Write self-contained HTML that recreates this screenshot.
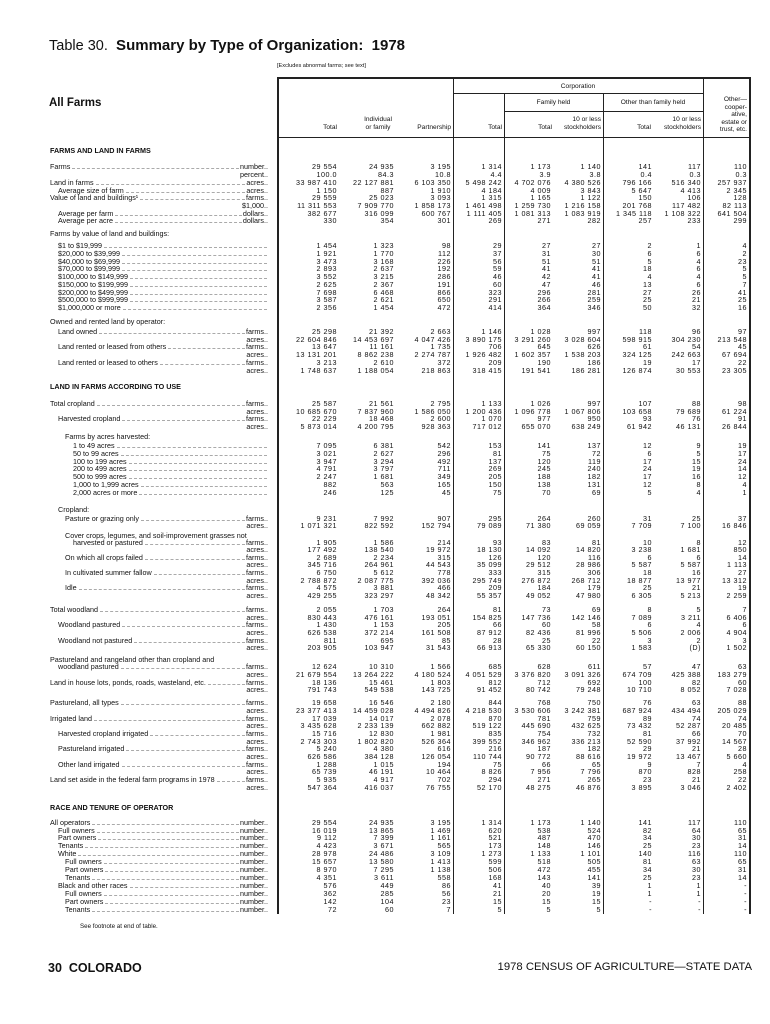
<!DOCTYPE html>
<html><head><meta charset="utf-8"><style>
*{margin:0;padding:0}
body{width:770px;height:1024px;background:#fff;position:relative;font-family:"Liberation Sans",sans-serif;color:#111;overflow:hidden}
.t{position:absolute;white-space:nowrap}
.r{position:absolute;left:0;width:770px;height:8px;font-size:7.2px;line-height:8px}
.r i{position:absolute;left:50px;width:218px;display:flex;font-style:normal;white-space:nowrap;box-sizing:border-box}
.r i q{flex:1;border-bottom:1px dashed #aaa;margin:0 1px 2px 2px}
.r i q:before,.r i q:after{content:""}
.r s{position:absolute;text-decoration:none;text-align:right;width:70px;top:0;letter-spacing:0.5px}
.r s:nth-of-type(1){right:433px}.r s:nth-of-type(2){right:376px}.r s:nth-of-type(3){right:319px}
.r s:nth-of-type(4){right:268px}.r s:nth-of-type(5){right:219px}.r s:nth-of-type(6){right:169px}
.r s:nth-of-type(7){right:118px}.r s:nth-of-type(8){right:69px}.r s:nth-of-type(9){right:23px}
.a1{padding-left:8px}.a2{padding-left:15px}.a3{padding-left:23px}
.h{position:absolute;left:50px;font-size:7.2px;font-weight:bold;white-space:nowrap}
.v{position:absolute;background:#222;width:1px}
.hl{position:absolute;background:#222;height:1px}
.ch{position:absolute;font-size:6.6px;line-height:7.5px;text-align:right;white-space:nowrap}
#m{position:absolute;left:0;top:2px;width:770px;height:800px}
</style></head><body>
<div class="t" style="left:49px;top:37px;font-size:14.5px">Table 30. <b style="font-size:15px">&nbsp;Summary by Type of Organization: &nbsp;1978</b></div>
<div class="t" style="left:277px;top:63px;font-size:5.6px">[Excludes abnormal farms; see text]</div>
<div class="t" style="left:49px;top:97px;font-size:11.5px;font-weight:bold">All Farms</div>

<div class="hl" style="left:277px;top:77px;width:473px;height:2px"></div>
<div class="hl" style="left:453px;top:93px;width:250px"></div>
<div class="hl" style="left:504px;top:111px;width:199px"></div>
<div class="hl" style="left:277px;top:137px;width:473px"></div>
<div class="v" style="left:277px;top:77px;height:837px;width:1.5px"></div>
<div class="v" style="left:453px;top:77px;height:837px"></div>
<div class="v" style="left:504px;top:93px;height:821px"></div>
<div class="v" style="left:603px;top:93px;height:821px"></div>
<div class="v" style="left:703px;top:77px;height:837px"></div>
<div class="v" style="left:749px;top:77px;height:837px;width:1.5px"></div>

<div class="ch" style="left:453px;width:250px;top:83px;text-align:center">Corporation</div>
<div class="ch" style="left:504px;width:99px;top:99px;text-align:center">Family held</div>
<div class="ch" style="left:603px;width:100px;top:99px;text-align:center">Other than family held</div>
<div class="ch" style="right:433px;top:124px">Total</div>
<div class="ch" style="left:353px;width:50px;top:116px;text-align:center">Individual<br>or family</div>
<div class="ch" style="right:319px;top:124px">Partnership</div>
<div class="ch" style="right:268px;top:124px">Total</div>
<div class="ch" style="right:218px;top:124px">Total</div>
<div class="ch" style="right:169px;top:116px">10 or less<br>stockholders</div>
<div class="ch" style="right:119px;top:124px">Total</div>
<div class="ch" style="right:69px;top:116px">10 or less<br>stockholders</div>
<div class="ch" style="right:23px;top:96px">Other—<br>cooper-<br>ative,<br>estate or<br>trust, etc.</div>

<div id="m">
<div class="h" style="top:144px">FARMS AND LAND IN FARMS</div>
<div class="r" style="top:161px"><i>Farms<q></q>number..</i><s>29 554</s><s>24 935</s><s>3 195</s><s>1 314</s><s>1 173</s><s>1 140</s><s>141</s><s>117</s><s>110</s></div>
<div class="r" style="top:169px"><i><q style="border:0"></q>percent..</i><s>100.0</s><s>84.3</s><s>10.8</s><s>4.4</s><s>3.9</s><s>3.8</s><s>0.4</s><s>0.3</s><s>0.3</s></div>
<div class="r" style="top:177px"><i>Land in farms<q></q>acres..</i><s>33 987 410</s><s>22 127 881</s><s>6 103 350</s><s>5 498 242</s><s>4 702 076</s><s>4 380 526</s><s>796 166</s><s>516 340</s><s>257 937</s></div>
<div class="r" style="top:185px"><i class="a1">Average size of farm<q></q>acres..</i><s>1 150</s><s>887</s><s>1 910</s><s>4 184</s><s>4 009</s><s>3 843</s><s>5 647</s><s>4 413</s><s>2 345</s></div>
<div class="r" style="top:192px"><i>Value of land and buildings¹<q></q>farms..</i><s>29 559</s><s>25 023</s><s>3 093</s><s>1 315</s><s>1 165</s><s>1 122</s><s>150</s><s>106</s><s>128</s></div>
<div class="r" style="top:200px"><i><q style="border:0"></q>$1,000..</i><s>11 311 553</s><s>7 909 770</s><s>1 858 173</s><s>1 461 498</s><s>1 259 730</s><s>1 216 158</s><s>201 768</s><s>117 482</s><s>82 113</s></div>
<div class="r" style="top:208px"><i class="a1">Average per farm<q></q>dollars..</i><s>382 677</s><s>316 099</s><s>600 767</s><s>1 111 405</s><s>1 081 313</s><s>1 083 919</s><s>1 345 118</s><s>1 108 322</s><s>641 504</s></div>
<div class="r" style="top:215px"><i class="a1">Average per acre<q></q>dollars..</i><s>330</s><s>354</s><s>301</s><s>269</s><s>271</s><s>282</s><s>257</s><s>233</s><s>299</s></div>

<div class="r" style="top:228px"><i>Farms by value of land and buildings:</i></div>
<div class="r" style="top:240px"><i class="a1">$1 to $19,999<q></q></i><s>1 454</s><s>1 323</s><s>98</s><s>29</s><s>27</s><s>27</s><s>2</s><s>1</s><s>4</s></div>
<div class="r" style="top:248px"><i class="a1">$20,000 to $39,999<q></q></i><s>1 921</s><s>1 770</s><s>112</s><s>37</s><s>31</s><s>30</s><s>6</s><s>6</s><s>2</s></div>
<div class="r" style="top:256px"><i class="a1">$40,000 to $69,999<q></q></i><s>3 473</s><s>3 168</s><s>226</s><s>56</s><s>51</s><s>51</s><s>5</s><s>4</s><s>23</s></div>
<div class="r" style="top:263px"><i class="a1">$70,000 to $99,999<q></q></i><s>2 893</s><s>2 637</s><s>192</s><s>59</s><s>41</s><s>41</s><s>18</s><s>6</s><s>5</s></div>
<div class="r" style="top:271px"><i class="a1">$100,000 to $149,999<q></q></i><s>3 552</s><s>3 215</s><s>286</s><s>46</s><s>42</s><s>41</s><s>4</s><s>4</s><s>5</s></div>
<div class="r" style="top:279px"><i class="a1">$150,000 to $199,999<q></q></i><s>2 625</s><s>2 367</s><s>191</s><s>60</s><s>47</s><s>46</s><s>13</s><s>6</s><s>7</s></div>
<div class="r" style="top:287px"><i class="a1">$200,000 to $499,999<q></q></i><s>7 698</s><s>6 468</s><s>866</s><s>323</s><s>296</s><s>281</s><s>27</s><s>26</s><s>41</s></div>
<div class="r" style="top:294px"><i class="a1">$500,000 to $999,999<q></q></i><s>3 587</s><s>2 621</s><s>650</s><s>291</s><s>266</s><s>259</s><s>25</s><s>21</s><s>25</s></div>
<div class="r" style="top:302px"><i class="a1">$1,000,000 or more<q></q></i><s>2 356</s><s>1 454</s><s>472</s><s>414</s><s>364</s><s>346</s><s>50</s><s>32</s><s>16</s></div>

<div class="r" style="top:316px"><i>Owned and rented land by operator:</i></div>
<div class="r" style="top:326px"><i class="a1">Land owned<q></q>farms..</i><s>25 298</s><s>21 392</s><s>2 663</s><s>1 146</s><s>1 028</s><s>997</s><s>118</s><s>96</s><s>97</s></div>
<div class="r" style="top:334px"><i><q style="border:0"></q>acres..</i><s>22 604 846</s><s>14 453 697</s><s>4 047 426</s><s>3 890 175</s><s>3 291 260</s><s>3 028 604</s><s>598 915</s><s>304 230</s><s>213 548</s></div>
<div class="r" style="top:341px"><i class="a1">Land rented or leased from others<q></q>farms..</i><s>13 647</s><s>11 161</s><s>1 735</s><s>706</s><s>645</s><s>626</s><s>61</s><s>54</s><s>45</s></div>
<div class="r" style="top:349px"><i><q style="border:0"></q>acres..</i><s>13 131 201</s><s>8 862 238</s><s>2 274 787</s><s>1 926 482</s><s>1 602 357</s><s>1 538 203</s><s>324 125</s><s>242 663</s><s>67 694</s></div>
<div class="r" style="top:357px"><i class="a1">Land rented or leased to others<q></q>farms..</i><s>3 213</s><s>2 610</s><s>372</s><s>209</s><s>190</s><s>186</s><s>19</s><s>17</s><s>22</s></div>
<div class="r" style="top:365px"><i><q style="border:0"></q>acres..</i><s>1 748 637</s><s>1 188 054</s><s>218 863</s><s>318 415</s><s>191 541</s><s>186 281</s><s>126 874</s><s>30 553</s><s>23 305</s></div>

<div class="h" style="top:380px">LAND IN FARMS ACCORDING TO USE</div>
<div class="r" style="top:398px"><i>Total cropland<q></q>farms..</i><s>25 587</s><s>21 561</s><s>2 795</s><s>1 133</s><s>1 026</s><s>997</s><s>107</s><s>88</s><s>98</s></div>
<div class="r" style="top:406px"><i><q style="border:0"></q>acres..</i><s>10 685 670</s><s>7 837 960</s><s>1 586 050</s><s>1 200 436</s><s>1 096 778</s><s>1 067 806</s><s>103 658</s><s>79 689</s><s>61 224</s></div>
<div class="r" style="top:413px"><i class="a1">Harvested cropland<q></q>farms..</i><s>22 229</s><s>18 468</s><s>2 600</s><s>1 070</s><s>977</s><s>950</s><s>93</s><s>76</s><s>91</s></div>
<div class="r" style="top:421px"><i><q style="border:0"></q>acres..</i><s>5 873 014</s><s>4 200 795</s><s>928 363</s><s>717 012</s><s>655 070</s><s>638 249</s><s>61 942</s><s>46 131</s><s>26 844</s></div>
<div class="r" style="top:431px"><i class="a2">Farms by acres harvested:</i></div>
<div class="r" style="top:440px"><i class="a3">1 to 49 acres<q></q></i><s>7 095</s><s>6 381</s><s>542</s><s>153</s><s>141</s><s>137</s><s>12</s><s>9</s><s>19</s></div>
<div class="r" style="top:448px"><i class="a3">50 to 99 acres<q></q></i><s>3 021</s><s>2 627</s><s>296</s><s>81</s><s>75</s><s>72</s><s>6</s><s>5</s><s>17</s></div>
<div class="r" style="top:456px"><i class="a3">100 to 199 acres<q></q></i><s>3 947</s><s>3 294</s><s>492</s><s>137</s><s>120</s><s>119</s><s>17</s><s>15</s><s>24</s></div>
<div class="r" style="top:463px"><i class="a3">200 to 499 acres<q></q></i><s>4 791</s><s>3 797</s><s>711</s><s>269</s><s>245</s><s>240</s><s>24</s><s>19</s><s>14</s></div>
<div class="r" style="top:471px"><i class="a3">500 to 999 acres<q></q></i><s>2 247</s><s>1 681</s><s>349</s><s>205</s><s>188</s><s>182</s><s>17</s><s>16</s><s>12</s></div>
<div class="r" style="top:479px"><i class="a3">1,000 to 1,999 acres<q></q></i><s>882</s><s>563</s><s>165</s><s>150</s><s>138</s><s>131</s><s>12</s><s>8</s><s>4</s></div>
<div class="r" style="top:487px"><i class="a3">2,000 acres or more<q></q></i><s>246</s><s>125</s><s>45</s><s>75</s><s>70</s><s>69</s><s>5</s><s>4</s><s>1</s></div>

<div class="r" style="top:504px"><i class="a1">Cropland:</i></div>
<div class="r" style="top:513px"><i class="a2">Pasture or grazing only<q></q>farms..</i><s>9 231</s><s>7 992</s><s>907</s><s>295</s><s>264</s><s>260</s><s>31</s><s>25</s><s>37</s></div>
<div class="r" style="top:520px"><i><q style="border:0"></q>acres..</i><s>1 071 321</s><s>822 592</s><s>152 794</s><s>79 089</s><s>71 380</s><s>69 059</s><s>7 709</s><s>7 100</s><s>16 846</s></div>
<div class="r" style="top:530px"><i class="a2">Cover crops, legumes, and soil-improvement grasses not</i></div>
<div class="r" style="top:537px"><i class="a3">harvested or pastured<q></q>farms..</i><s>1 905</s><s>1 586</s><s>214</s><s>93</s><s>83</s><s>81</s><s>10</s><s>8</s><s>12</s></div>
<div class="r" style="top:544px"><i><q style="border:0"></q>acres..</i><s>177 492</s><s>138 540</s><s>19 972</s><s>18 130</s><s>14 092</s><s>14 820</s><s>3 238</s><s>1 681</s><s>850</s></div>
<div class="r" style="top:552px"><i class="a2">On which all crops failed<q></q>farms..</i><s>2 689</s><s>2 234</s><s>315</s><s>126</s><s>120</s><s>116</s><s>6</s><s>6</s><s>14</s></div>
<div class="r" style="top:559px"><i><q style="border:0"></q>acres..</i><s>345 716</s><s>264 961</s><s>44 543</s><s>35 099</s><s>29 512</s><s>28 986</s><s>5 587</s><s>5 587</s><s>1 113</s></div>
<div class="r" style="top:567px"><i class="a2">In cultivated summer fallow<q></q>farms..</i><s>6 750</s><s>5 612</s><s>778</s><s>333</s><s>315</s><s>306</s><s>18</s><s>16</s><s>27</s></div>
<div class="r" style="top:575px"><i><q style="border:0"></q>acres..</i><s>2 788 872</s><s>2 087 775</s><s>392 036</s><s>295 749</s><s>276 872</s><s>268 712</s><s>18 877</s><s>13 977</s><s>13 312</s></div>
<div class="r" style="top:582px"><i class="a2">Idle<q></q>farms..</i><s>4 575</s><s>3 881</s><s>466</s><s>209</s><s>184</s><s>179</s><s>25</s><s>21</s><s>19</s></div>
<div class="r" style="top:590px"><i><q style="border:0"></q>acres..</i><s>429 255</s><s>323 297</s><s>48 342</s><s>55 357</s><s>49 052</s><s>47 980</s><s>6 305</s><s>5 213</s><s>2 259</s></div>

<div class="r" style="top:604px"><i>Total woodland<q></q>farms..</i><s>2 055</s><s>1 703</s><s>264</s><s>81</s><s>73</s><s>69</s><s>8</s><s>5</s><s>7</s></div>
<div class="r" style="top:612px"><i><q style="border:0"></q>acres..</i><s>830 443</s><s>476 161</s><s>193 051</s><s>154 825</s><s>147 736</s><s>142 146</s><s>7 089</s><s>3 211</s><s>6 406</s></div>
<div class="r" style="top:619px"><i class="a1">Woodland pastured<q></q>farms..</i><s>1 430</s><s>1 153</s><s>205</s><s>66</s><s>60</s><s>58</s><s>6</s><s>4</s><s>6</s></div>
<div class="r" style="top:627px"><i><q style="border:0"></q>acres..</i><s>626 538</s><s>372 214</s><s>161 508</s><s>87 912</s><s>82 436</s><s>81 996</s><s>5 506</s><s>2 006</s><s>4 904</s></div>
<div class="r" style="top:635px"><i class="a1">Woodland not pastured<q></q>farms..</i><s>811</s><s>695</s><s>85</s><s>28</s><s>25</s><s>22</s><s>3</s><s>2</s><s>3</s></div>
<div class="r" style="top:642px"><i><q style="border:0"></q>acres..</i><s>203 905</s><s>103 947</s><s>31 543</s><s>66 913</s><s>65 330</s><s>60 150</s><s>1 583</s><s>(D)</s><s>1 502</s></div>
<div class="r" style="top:654px"><i>Pastureland and rangeland other than cropland and</i></div>
<div class="r" style="top:661px"><i class="a1">woodland pastured<q></q>farms..</i><s>12 624</s><s>10 310</s><s>1 566</s><s>685</s><s>628</s><s>611</s><s>57</s><s>47</s><s>63</s></div>
<div class="r" style="top:669px"><i><q style="border:0"></q>acres..</i><s>21 679 554</s><s>13 264 222</s><s>4 180 524</s><s>4 051 529</s><s>3 376 820</s><s>3 091 326</s><s>674 709</s><s>425 388</s><s>183 279</s></div>
<div class="r" style="top:677px"><i>Land in house lots, ponds, roads, wasteland, etc.<q></q>farms..</i><s>18 136</s><s>15 461</s><s>1 803</s><s>812</s><s>712</s><s>692</s><s>100</s><s>82</s><s>60</s></div>
<div class="r" style="top:684px"><i><q style="border:0"></q>acres..</i><s>791 743</s><s>549 538</s><s>143 725</s><s>91 452</s><s>80 742</s><s>79 248</s><s>10 710</s><s>8 052</s><s>7 028</s></div>

<div class="r" style="top:697px"><i>Pastureland, all types<q></q>farms..</i><s>19 658</s><s>16 546</s><s>2 180</s><s>844</s><s>768</s><s>750</s><s>76</s><s>63</s><s>88</s></div>
<div class="r" style="top:705px"><i><q style="border:0"></q>acres..</i><s>23 377 413</s><s>14 459 028</s><s>4 494 826</s><s>4 218 530</s><s>3 530 606</s><s>3 242 381</s><s>687 924</s><s>434 494</s><s>205 029</s></div>
<div class="r" style="top:713px"><i>Irrigated land<q></q>farms..</i><s>17 039</s><s>14 017</s><s>2 078</s><s>870</s><s>781</s><s>759</s><s>89</s><s>74</s><s>74</s></div>
<div class="r" style="top:720px"><i><q style="border:0"></q>acres..</i><s>3 435 628</s><s>2 233 139</s><s>662 882</s><s>519 122</s><s>445 690</s><s>432 625</s><s>73 432</s><s>52 287</s><s>20 485</s></div>
<div class="r" style="top:728px"><i class="a1">Harvested cropland irrigated<q></q>farms..</i><s>15 716</s><s>12 830</s><s>1 981</s><s>835</s><s>754</s><s>732</s><s>81</s><s>66</s><s>70</s></div>
<div class="r" style="top:736px"><i><q style="border:0"></q>acres..</i><s>2 743 303</s><s>1 802 820</s><s>526 364</s><s>399 552</s><s>346 962</s><s>336 213</s><s>52 590</s><s>37 992</s><s>14 567</s></div>
<div class="r" style="top:743px"><i class="a1">Pastureland irrigated<q></q>farms..</i><s>5 240</s><s>4 380</s><s>616</s><s>216</s><s>187</s><s>182</s><s>29</s><s>21</s><s>28</s></div>
<div class="r" style="top:751px"><i><q style="border:0"></q>acres..</i><s>626 586</s><s>384 128</s><s>126 054</s><s>110 744</s><s>90 772</s><s>88 616</s><s>19 972</s><s>13 467</s><s>5 660</s></div>
<div class="r" style="top:759px"><i class="a1">Other land irrigated<q></q>farms..</i><s>1 288</s><s>1 015</s><s>194</s><s>75</s><s>66</s><s>65</s><s>9</s><s>7</s><s>4</s></div>
<div class="r" style="top:766px"><i><q style="border:0"></q>acres..</i><s>65 739</s><s>46 191</s><s>10 464</s><s>8 826</s><s>7 956</s><s>7 796</s><s>870</s><s>828</s><s>258</s></div>
<div class="r" style="top:774px"><i>Land set aside in the federal farm programs in 1978<q></q>farms..</i><s>5 935</s><s>4 917</s><s>702</s><s>294</s><s>271</s><s>265</s><s>23</s><s>21</s><s>22</s></div>
<div class="r" style="top:782px"><i><q style="border:0"></q>acres..</i><s>547 364</s><s>416 037</s><s>76 755</s><s>52 170</s><s>48 275</s><s>46 876</s><s>3 895</s><s>3 046</s><s>2 402</s></div>
</div>

<div class="h" style="top:803px">RACE AND TENURE OF OPERATOR</div>
<div class="r" style="top:819px"><i>All operators<q></q>number..</i><s>29 554</s><s>24 935</s><s>3 195</s><s>1 314</s><s>1 173</s><s>1 140</s><s>141</s><s>117</s><s>110</s></div>
<div class="r" style="top:827px"><i class="a1">Full owners<q></q>number..</i><s>16 019</s><s>13 865</s><s>1 469</s><s>620</s><s>538</s><s>524</s><s>82</s><s>64</s><s>65</s></div>
<div class="r" style="top:834px"><i class="a1">Part owners<q></q>number..</i><s>9 112</s><s>7 399</s><s>1 161</s><s>521</s><s>487</s><s>470</s><s>34</s><s>30</s><s>31</s></div>
<div class="r" style="top:842px"><i class="a1">Tenants<q></q>number..</i><s>4 423</s><s>3 671</s><s>565</s><s>173</s><s>148</s><s>146</s><s>25</s><s>23</s><s>14</s></div>
<div class="r" style="top:850px"><i class="a1">White<q></q>number..</i><s>28 978</s><s>24 486</s><s>3 109</s><s>1 273</s><s>1 133</s><s>1 101</s><s>140</s><s>116</s><s>110</s></div>
<div class="r" style="top:858px"><i class="a2">Full owners<q></q>number..</i><s>15 657</s><s>13 580</s><s>1 413</s><s>599</s><s>518</s><s>505</s><s>81</s><s>63</s><s>65</s></div>
<div class="r" style="top:866px"><i class="a2">Part owners<q></q>number..</i><s>8 970</s><s>7 295</s><s>1 138</s><s>506</s><s>472</s><s>455</s><s>34</s><s>30</s><s>31</s></div>
<div class="r" style="top:874px"><i class="a2">Tenants<q></q>number..</i><s>4 351</s><s>3 611</s><s>558</s><s>168</s><s>143</s><s>141</s><s>25</s><s>23</s><s>14</s></div>
<div class="r" style="top:882px"><i class="a1">Black and other races<q></q>number..</i><s>576</s><s>449</s><s>86</s><s>41</s><s>40</s><s>39</s><s>1</s><s>1</s><s>-</s></div>
<div class="r" style="top:890px"><i class="a2">Full owners<q></q>number..</i><s>362</s><s>285</s><s>56</s><s>21</s><s>20</s><s>19</s><s>1</s><s>1</s><s>-</s></div>
<div class="r" style="top:898px"><i class="a2">Part owners<q></q>number..</i><s>142</s><s>104</s><s>23</s><s>15</s><s>15</s><s>15</s><s>-</s><s>-</s><s>-</s></div>
<div class="r" style="top:906px"><i class="a2">Tenants<q></q>number..</i><s>72</s><s>60</s><s>7</s><s>5</s><s>5</s><s>5</s><s>-</s><s>-</s><s>-</s></div>

<div class="t" style="left:80px;top:923px;font-size:6.2px">See footnote at end of table.</div>
<div class="t" style="left:48px;top:961px;font-size:12.5px;font-weight:bold">30 &nbsp;COLORADO</div>
<div class="t" style="right:18px;top:961px;font-size:11.3px">1978 CENSUS OF AGRICULTURE—STATE DATA</div>
</body></html>
